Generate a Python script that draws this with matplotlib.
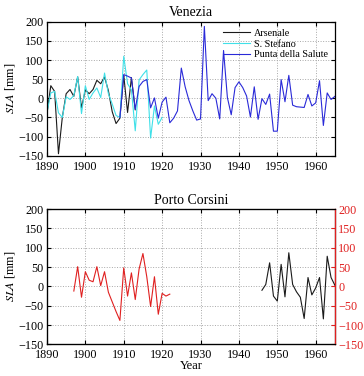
"""
Venezia / Porto Corsini - anomalie SLA
"""
import matplotlib
matplotlib.use('Agg')
import matplotlib.pyplot as plt

plt.rcParams['font.family'] = ['Liberation Serif', 'DejaVu Serif']
plt.rcParams['mathtext.fontset'] = 'stix'

# Venezia
arsenale_anni = list(range(1890, 1914))
arsenale = [-40, 33, 18, -145, -50, 12, 23, 5, 56, -25, 22, 12, 23, 47, 38, 56,
            20, -35, -66, -52, 60, -37, 54, -30]

stefano_anni = list(range(1890, 1921))
stefano = [-38, 14, 18, -38, -50, 4, -3, 7, 57, -40, 33, -3, 14, 27, 2, 66,
           12, -15, -45, -50, 110, 38, 22, -85, 48, 62, 74, -104, -20, -68, -50]

salute_anni = list(range(1909, 1966))
salute = [-50, 62, 58, 53, -29, 31, 44, 49, -25, 1, -52, -10, 3, -64, -52, -33,
          79, 30, -6, -33, -57, -54, 188, -6, 12, 0, -54, 125, 2, -43, 28, 43,
          28, 6, -49, 30, -55, -1, -16, 11, -86, -86, 49, -9, 60, -18, -22, -23,
          -24, 10, -20, -12, 46, -71, 14, -3, 5]

# Porto Corsini
corsini_rosso_anni = list(range(1897, 1923))
corsini_rosso = [-12, 51, -28, 38, 16, 12, 51, 2, 38, -15, -40, -65, -88, 48,
                 -25, 35, -34, 45, 85, 25, -52, 25, -72, -18, -25, -20]

corsini_nero_anni = list(range(1946, 1966))
corsini_nero = [-10, 5, 61, -25, -38, 57, -27, 87, 5, -14, -28, -83, 23, -22,
                -4, 23, -84, 78, 23, 3]

yticks = list(range(-150, 201, 50))
xticks = list(range(1890, 1961, 10))


def stile_assi(ax):
    ax.set_xlim(1890, 1965)
    ax.set_ylim(-150, 200)
    ax.set_xticks(xticks)
    ax.set_yticks(yticks)
    ax.grid(True, linestyle=':', color='#a8a8a8', linewidth=0.7)
    ax.tick_params(direction='in', length=3, labelsize=8.7, top=True)
    ax.tick_params(axis='x', pad=3.5)
    ax.tick_params(axis='y', pad=2.5)
    for s in ax.spines.values():
        s.set_linewidth(0.9)


fig = plt.figure(figsize=(3.64, 3.76), dpi=100)

ax1 = fig.add_axes([0.129, 0.586, 0.791, 0.356])
ax1.plot(arsenale_anni, arsenale, color='#1a1a1a', lw=0.8, label='Arsenale')
ax1.plot(stefano_anni, stefano, color='#40e0e8', lw=0.8, label='S. Stefano')
ax1.plot(salute_anni, salute, color='#2a2ad8', lw=0.8, label='Punta della Salute')
stile_assi(ax1)
ax1.tick_params(right=True)
ax1.set_title('Venezia', fontsize=10, pad=4)
ax1.set_ylabel(r'$\mathit{SLA}$ [mm]', fontsize=8.7, labelpad=1)
ax1.legend(loc='upper right', frameon=False, fontsize=7.3, handlelength=2.6,
           borderaxespad=0.3, labelspacing=0.15, handletextpad=0.4)

ax2 = fig.add_axes([0.129, 0.084, 0.791, 0.360])
ax2.plot(corsini_nero_anni, corsini_nero, color='#1a1a1a', lw=0.8)
stile_assi(ax2)
ax2.tick_params(right=False)
ax2.set_title('Porto Corsini', fontsize=10, pad=4)
ax2.set_ylabel(r'$\mathit{SLA}$ [mm]', fontsize=8.7, labelpad=1)
ax2.set_xlabel('Year', fontsize=9, labelpad=-1)

ax3 = ax2.twinx()
ax3.plot(corsini_rosso_anni, corsini_rosso, color='#e02020', lw=0.8)
ax3.set_ylim(-150, 200)
ax3.set_yticks(yticks)
ax3.tick_params(direction='in', length=3, labelsize=8.7, colors='#e02020', pad=2.5)
ax3.spines['right'].set_color('#e02020')
ax3.spines['right'].set_linewidth(0.9)

plt.savefig('out.png', dpi=100, facecolor='white')
plt.close()
